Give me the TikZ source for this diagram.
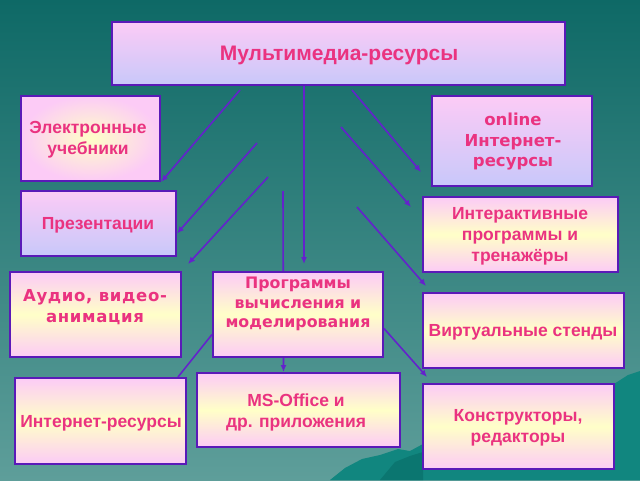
\documentclass[tikz,border=0pt]{standalone}
\usepackage{fontspec}
\setmainfont{Liberation Sans}
\newfontfamily\dvfont{DejaVu Sans}
\newfontfamily\dvspaced[LetterSpace=4]{DejaVu Sans}
\usetikzlibrary{arrows.meta,calc}
\pgfdeclarelayer{back}
\pgfdeclarelayer{lines}
\pgfsetlayers{back,lines,main}
\definecolor{bgtop}{HTML}{0E6966}
\definecolor{bgbot}{HTML}{5E9E9A}
\definecolor{mount}{HTML}{11867F}
\definecolor{mountdark}{HTML}{0B7670}
\definecolor{pinkc}{HTML}{FCCBF6}
\definecolor{lavc}{HTML}{C8C8FA}
\definecolor{yelc}{HTML}{FFFFC8}
\definecolor{bordc}{HTML}{5A1AB8}
\definecolor{arrc}{HTML}{6422CC}
\definecolor{txtc}{HTML}{EA3380}
\tikzset{
  box/.style={draw=bordc, line width=2pt, inner sep=0pt},
  lavbox/.style={box, top color=pinkc, bottom color=lavc},
  yelbox/.style={box, top color=pinkc, bottom color=pinkc, middle color=yelc},
  radbox/.style={box, inner color=yelc, outer color=pinkc},
  lbl/.style={text=txtc, align=center, inner sep=0pt, font=\bfseries\fontsize{17.5}{21}\selectfont},
  conn/.style={draw=arrc, line width=1.6pt, -{Latex[length=7pt,width=6pt]}},
  plainconn/.style={draw=arrc, line width=1.6pt}
}
\begin{document}
\begin{tikzpicture}[x=1pt,y=-1pt]
\useasboundingbox (0,0) rectangle (640,480);
\begin{pgfonlayer}{back}
  \shade[top color=bgtop, bottom color=bgbot] (0,0) rectangle (640,480);
  \fill[mount] (330,480) -- (345,468) -- (362,459) -- (380,455) -- (398,449) -- (410,451) -- (423,444)
     -- (520,425) -- (600,392) -- (614,384) -- (628,375) -- (640,371) -- (640,480) -- cycle;
  \fill[mountdark] (380,480) -- (395,462) -- (410,456) -- (423,452) -- (423,480) -- cycle;
\end{pgfonlayer}

% boxes
\node[lavbox, minimum width=453pt, minimum height=63pt] (top) at (338.5,53.5) {};
\node[radbox, minimum width=139pt, minimum height=85pt] (eb) at (90.5,138.5) {};
\node[lavbox, minimum width=160pt, minimum height=90pt] (oi) at (512,141) {};
\node[lavbox, minimum width=155pt, minimum height=65pt] (pr) at (98.5,223.5) {};
\node[yelbox, minimum width=195pt, minimum height=75pt] (ia) at (520.5,234.5) {};
\node[yelbox, minimum width=171pt, minimum height=85pt] (au) at (95.5,314.5) {};
\node[yelbox, minimum width=170pt, minimum height=85pt] (pg) at (298,314.5) {};
\node[yelbox, minimum width=201pt, minimum height=75pt] (vs) at (523.5,330.5) {};
\node[yelbox, minimum width=203pt, minimum height=74pt] (ms) at (298.5,410) {};
\node[yelbox, minimum width=171pt, minimum height=86pt] (ir) at (100.5,421) {};
\node[yelbox, minimum width=191pt, minimum height=85pt] (kr) at (518.5,426.5) {};

% texts
\node[lbl, font=\bfseries\fontsize{21}{25}\selectfont] (topt) at (339,55) {Мультимедиа-ресурсы};
\node[lbl] (ebt) at (88,140) {Электронные\\учебники};
\node[lbl, font=\dvfont\bfseries\fontsize{16.5}{20.5}\selectfont] (oit) at (513,142) {online\\Интернет-\\ресурсы};
\node[lbl, font=\bfseries\fontsize{17.5}{21}\selectfont] (prt) at (98,225) {Презентации};
\node[lbl] (iat) at (520,236) {Интерактивные\\программы и\\тренажёры};
\node[lbl, font=\dvspaced\bfseries\fontsize{16.5}{21}\selectfont] (aut) at (95,307) {Аудио, видео-\\анимация};
\node[lbl, font=\dvfont\bfseries\fontsize{15.8}{19.5}\selectfont] (pgt) at (298,304) {Программы\\вычисления и\\моделирования};
\node[lbl] (vst) at (523,332) {Виртуальные стенды};
\node[lbl] (mst) at (296,412) {MS-Office и\\др. приложения};
\node[lbl] (irt) at (101,423) {Интернет-ресурсы};
\node[lbl] (krt) at (518,428) {Конструкторы,\\редакторы};

% free ends
\coordinate (s1) at (240,90);
\coordinate (s2) at (257,143);
\coordinate (s3) at (268,177);
\coordinate (s4) at (283,191);
\coordinate (s6) at (352,90);
\coordinate (s7) at (341,127);
\coordinate (s8) at (357,207);

\begin{pgfonlayer}{lines}
  \draw[conn] (s1) -- (eb.south east);
  \draw[conn] (s2) -- ([yshift=-10pt]pr.east);
  \draw[conn] (s3) -- ([xshift=6pt,yshift=7pt]au.north east);
  \draw[conn] (s4) -- ([xshift=-15pt]ms.north);
  \draw[conn] ([xshift=-34.5pt]top.south) -- ([xshift=6pt,yshift=7pt]pg.north);
  \draw[conn] (s6) -- ([xshift=-10pt,yshift=15pt]oi.south west);
  \draw[conn] (s7) -- ([xshift=-11pt,yshift=-11pt]ia.north west);
  \draw[conn] (s8) -- ([xshift=4pt,yshift=6pt]vs.north west);
  \draw[conn] ([yshift=-14pt]pg.east) -- ([xshift=5pt,yshift=6pt]kr.north west);
  \draw[plainconn] ([yshift=-20pt]pg.west) -- ([xshift=-9pt]ir.north east);
\end{pgfonlayer}
\end{tikzpicture}
\end{document}
